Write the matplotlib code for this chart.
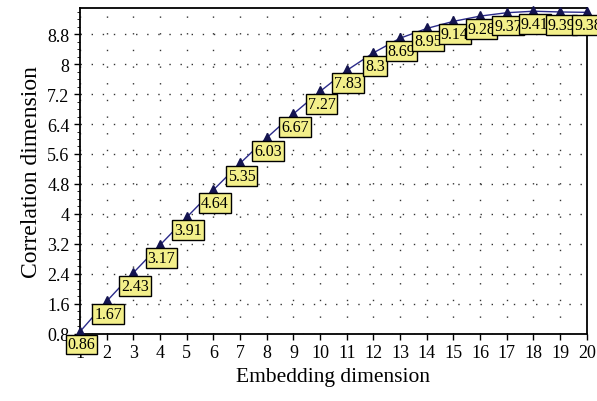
import numpy as np
import matplotlib.pyplot as plt
from matplotlib.ticker import MultipleLocator

embedding = list(range(1, 21))
corr_dim = [0.86, 1.67, 2.43, 3.17, 3.91, 4.64, 5.35, 6.03, 6.67, 7.27,
            7.83, 8.3, 8.69, 8.95, 9.14, 9.28, 9.37, 9.41, 9.39, 9.38]
labels = ['0.86', '1.67', '2.43', '3.17', '3.91', '4.64', '5.35', '6.03', '6.67', '7.27',
          '7.83', '8.3', '8.69', '8.95', '9.14', '9.28', '9.37', '9.41', '9.39', '9.38']
yticks = [0.8, 1.6, 2.4, 3.2, 4, 4.8, 5.6, 6.4, 7.2, 8, 8.8]
ytick_labels = ['0.8', '1.6', '2.4', '3.2', '4', '4.8', '5.6', '6.4', '7.2', '8', '8.8']

plt.rcParams['font.family'] = ['Liberation Serif', 'DejaVu Serif']

fig = plt.figure(figsize=(5.97, 4.02), dpi=100)
ax = fig.add_axes([0.134, 0.167, 0.849, 0.811])

ax.plot(embedding, corr_dim, color='#2b2b8a', lw=1, zorder=3, clip_on=False)
ax.plot(embedding, corr_dim, ls='none', marker='^', ms=7,
        mfc='#141450', mec='#141450', zorder=3, clip_on=False)

for x, y, t in zip(embedding, corr_dim, labels):
    ax.annotate(t, (x, y), xytext=(1, -3.5), textcoords='offset points',
                ha='center', va='top', fontsize=11.5,
                bbox=dict(boxstyle='square,pad=0.12', fc='#f3ef8a', ec='black', lw=1),
                zorder=5, annotation_clip=False)

ax.set_xlim(1, 20)
ax.set_ylim(0.8, 9.5)
ax.set_xticks(embedding)
ax.set_yticks(yticks)
ax.set_yticklabels(ytick_labels)
ax.yaxis.set_minor_locator(MultipleLocator(0.2))

ax.xaxis.grid(True, color='#333333', linestyle=(0, (1, 11)), lw=1)
ax.yaxis.grid(True, color='#333333', linestyle=(0, (1, 7)), lw=1)
ax.tick_params(labelsize=13, direction='out', length=4, width=1)
ax.tick_params(which='minor', length=2)

for s in ax.spines.values():
    s.set_linewidth(1.3)

ax.set_xlabel('Embedding dimension', fontsize=15.5)
ax.set_ylabel('Correlation dimension', fontsize=17)

fig.savefig('out.png', dpi=100)
